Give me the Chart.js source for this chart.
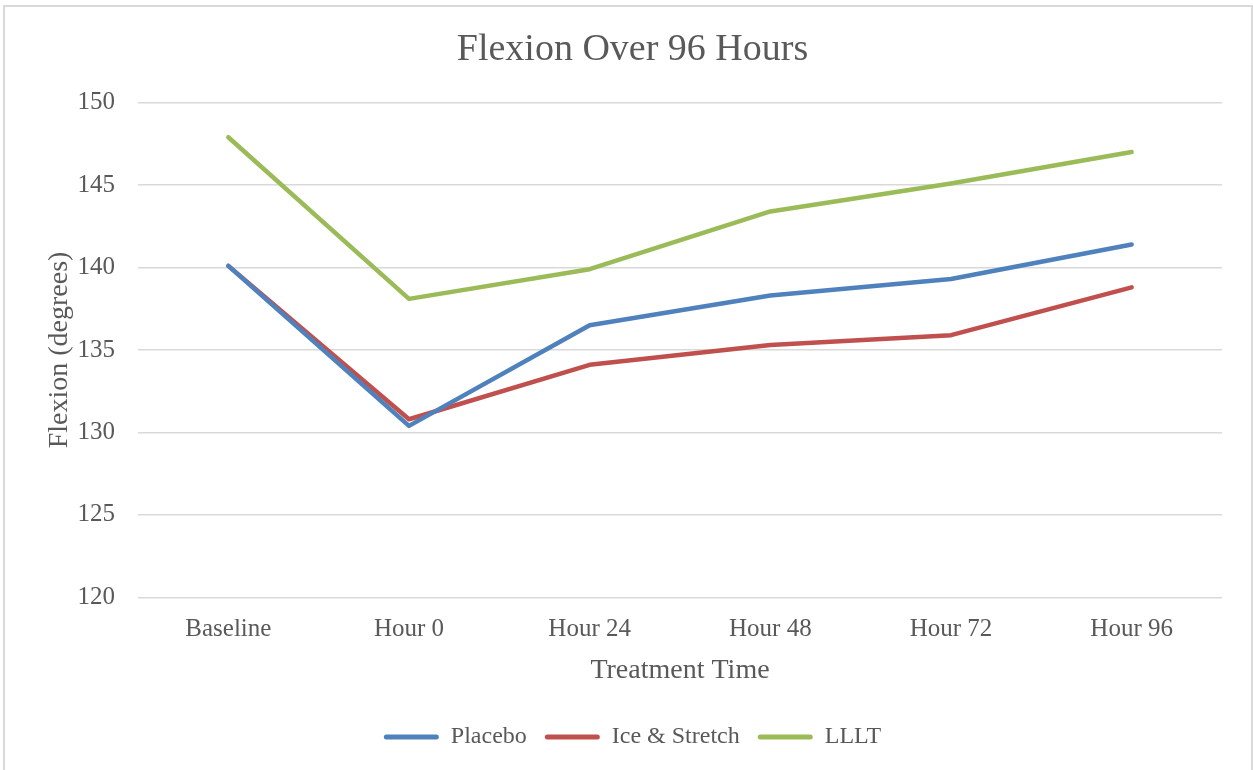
<!DOCTYPE html>
<html>
<head>
<meta charset="utf-8">
<script src="https://cdn.jsdelivr.net/npm/chart.js@4/dist/chart.umd.min.js"></script>
<style>
  html, body { margin: 0; padding: 0; background: #fff; overflow: hidden; }
  #frame { position: absolute; left: 3px; top: 5px; width: 1246px; height: 780px; border: 2px solid #d9d9d9; }
  #wrap { position: absolute; left: 0; top: 0; width: 1253px; height: 770px; }
</style>
</head>
<body>
<div id="frame"></div>
<div id="wrap"><canvas id="chart"></canvas></div>
<script>
// categories and series
const timePoints = ["Baseline", "Hour 0", "Hour 24", "Hour 48", "Hour 72", "Hour 96"];
const placebo = [140.1, 130.4, 136.5, 138.3, 139.3, 141.4];
const iceStretch = [140.1, 130.8, 134.1, 135.3, 135.9, 138.8];
const lllt = [147.9, 138.1, 139.9, 143.4, 145.1, 147.0];

const seriesNames = ["Placebo", "Ice & Stretch", "LLLT"];
const seriesColors = ["#4f81bd", "#c0504d", "#9bbb59"];

const textColor = "#595959";
const fontFamily = "'Liberation Serif', 'DejaVu Serif', serif";

const makeSet = (i, values) => ({
  label: seriesNames[i],
  data: values,
  borderColor: seriesColors[i],
  backgroundColor: seriesColors[i],
  borderWidth: 4.5,
  pointRadius: 0,
  tension: 0,
  borderCapStyle: "round",
  borderJoinStyle: "round",
});

const chart = new Chart(document.getElementById("chart"), {
  type: "line",
  data: {
    labels: timePoints,
    datasets: [makeSet(0, placebo), makeSet(1, iceStretch), makeSet(2, lllt)],
  },
  options: {
    responsive: true,
    maintainAspectRatio: false,
    animation: false,
    layout: { padding: { left: 43, right: 31, top: 27, bottom: 11 } },
    plugins: {
      title: {
        display: true,
        text: "Flexion Over 96 Hours",
        color: textColor,
        font: { family: fontFamily, size: 38, weight: "normal" },
        padding: { top: 0, bottom: 30 },
      },
      legend: {
        position: "bottom",
        labels: {
          color: textColor,
          font: { family: fontFamily, size: 24 },
          boxWidth: 55,
          boxHeight: 5,
          useBorderRadius: true,
          borderRadius: 2.5,
          padding: 18,
          generateLabels: (c) =>
            c.data.datasets.map((ds, i) => ({
              text: ds.label,
              fillStyle: ds.borderColor,
              strokeStyle: ds.borderColor,
              lineWidth: 0,
              fontColor: textColor,
              borderRadius: 2.5,
              datasetIndex: i,
            })),
        },
      },
      tooltip: { enabled: false },
    },
    scales: {
      x: {
        offset: true,
        grid: { display: false },
        border: { display: false },
        ticks: {
          color: textColor,
          font: { family: fontFamily, size: 25 },
          padding: 9,
        },
        title: {
          display: true,
          text: "Treatment Time",
          color: textColor,
          font: { family: fontFamily, size: 28 },
          padding: { top: 0, bottom: 20 },
        },
      },
      y: {
        min: 120,
        max: 150,
        ticks: {
          stepSize: 5,
          color: textColor,
          font: { family: fontFamily, size: 25 },
          padding: 23,
        },
        grid: { color: "#d9d9d9", lineWidth: 1.5, drawTicks: false },
        border: { display: false },
        title: {
          display: true,
          text: "Flexion (degrees)",
          color: textColor,
          font: { family: fontFamily, size: 28 },
          padding: { top: 0, bottom: 4 },
        },
        afterFit: (scale) => { scale.width = 95; },
      },
    },
  },
});
</script>
</body>
</html>
